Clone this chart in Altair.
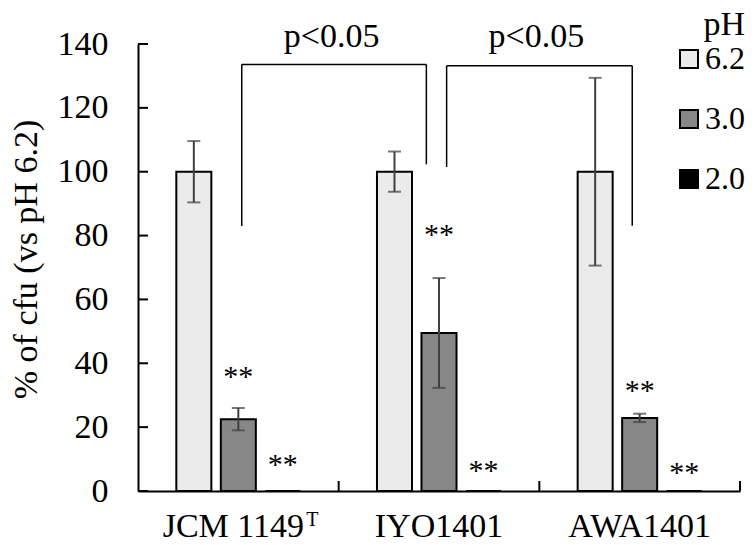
import altair as alt
import pandas as pd

# ---------------- data ----------------
groups = ["JCM 1149", "IYO1401", "AWA1401"]
superscripts = ["T", "", ""]
ph_levels = ["6.2", "3.0", "2.0"]
ph_colors = ["#ebebeb", "#878787", "#000000"]
mean_62 = [100, 100, 100]
mean_30 = [22.5, 49.5, 22.9]
mean_20 = [0, 0, 0]
err_62 = [9.6, 6.3, 29.4]
err_30 = [3.5, 17.2, 1.3]
err_20 = [0, 0, 0]
star_y_30 = [37.2, 81.7, 32.9]
star_y_20 = [9.8, 7.8, 7.3]
star_text = "**"
y_ticks = [0, 20, 40, 60, 80, 100, 120, 140]
group_edges = [1, 2, 3]
bracket_x1 = [0.517, 1.538]
bracket_x2 = [1.437, 2.463]
bracket_top = [133.6, 133.2]
bracket_left_end = [83.0, 101.5]
bracket_right_end = [102.3, 83.1]
p_text = ["p<0.05", "p<0.05"]
p_x = [0.965, 1.985]
p_y = [139.0, 139.0]

FONT = "Liberation Serif"
W, H = 602, 447

# ---------------- tables ----------------
rows = []
for ph, means, errs in zip(ph_levels, [mean_62, mean_30, mean_20], [err_62, err_30, err_20]):
    for g, m, e in zip(groups, means, errs):
        rows.append({"group": g, "ph": ph, "mean": m, "err": e, "lo": m - e, "hi": m + e})
bars_df = pd.DataFrame(rows)

star_rows = []
for ph, ys in zip(["3.0", "2.0"], [star_y_30, star_y_20]):
    for g, y in zip(groups, ys):
        star_rows.append({"group": g, "ph": ph, "sy": y, "txt": star_text})
star_df = pd.DataFrame(star_rows)

label_df = pd.DataFrame({"group": groups, "sup": superscripts})
ytick_df = pd.DataFrame({"v": y_ticks})
edge_df = pd.DataFrame({"e": group_edges})

seg_rows = []
for x1, x2, t, l, r in zip(bracket_x1, bracket_x2, bracket_top, bracket_left_end, bracket_right_end):
    seg_rows.append({"x": x1, "x2": x2, "y": t, "y2": t})
    seg_rows.append({"x": x1, "x2": x1, "y": l, "y2": t})
    seg_rows.append({"x": x2, "x2": x2, "y": r, "y2": t})
seg_df = pd.DataFrame(seg_rows)
p_df = pd.DataFrame({"x": p_x, "y": p_y, "txt": p_text})

# ---------------- encodings ----------------
yscale = alt.Scale(domain=[0, 140], nice=False, zero=True)
yaxis = alt.Axis(title="% of cfu (vs pH 6.2)", values=y_ticks, ticks=False, tickSize=0,
                 labelPadding=30, labelFontSize=34, labelFont=FONT, labelColor="black",
                 domainColor="black", domainWidth=2, grid=False,
                 titleFontSize=34, titleFont=FONT, titleFontWeight="normal",
                 titleColor="black", titleAngle=270, titleX=-112, titleY=215,
                 titleBaseline="middle", titleAlign="center")


def Y(field):
    return alt.Y(field, scale=yscale, axis=yaxis)


xband = alt.X("group:N", sort=groups,
              scale=alt.Scale(paddingInner=0, paddingOuter=0),
              axis=alt.Axis(labels=False, ticks=False, title=None, grid=False,
                            domain=True, domainColor="black", domainWidth=2))
xoff = alt.XOffset("ph:N", sort=ph_levels,
                   scale=alt.Scale(domain=ph_levels, paddingInner=0.213, paddingOuter=0.861))

bars = alt.Chart(bars_df).mark_bar(stroke="black", strokeWidth=2).encode(
    x=xband,
    xOffset=xoff,
    y=Y("mean:Q"),
    color=alt.Color("ph:N", sort=ph_levels,
                    scale=alt.Scale(domain=ph_levels, range=ph_colors),
                    legend=alt.Legend(title="pH", orient="none", legendX=535, legendY=-36,
                                      padding=0, symbolType="square", symbolSize=324,
                                      symbolStrokeColor="black", symbolStrokeWidth=2,
                                      symbolOpacity=1, labelFontSize=32, labelFont=FONT,
                                      labelColor="black", labelOffset=0, rowPadding=28,
                                      titleFontSize=34, titleFont=FONT, titleFontWeight="normal",
                                      titleColor="black", titleAnchor="end", titlePadding=1,
                                      titleBaseline="top")),
)

err_base = alt.Chart(bars_df).transform_filter("datum.err > 0")
err_rule = err_base.mark_rule(color="#404040", strokeWidth=2).encode(
    x=alt.X("group:N", sort=groups),
    xOffset=xoff,
    y=Y("lo:Q"),
    y2="hi:Q",
)
cap_lo = err_base.mark_tick(color="#404040", thickness=2, size=13, orient="horizontal").encode(
    x=alt.X("group:N", sort=groups), xOffset=xoff, y=Y("lo:Q"))
cap_hi = err_base.mark_tick(color="#404040", thickness=2, size=13, orient="horizontal").encode(
    x=alt.X("group:N", sort=groups), xOffset=xoff, y=Y("hi:Q"))

stars = alt.Chart(star_df).mark_text(font=FONT, fontSize=30, color="black",
                                     baseline="alphabetic", dy=14).encode(
    x=alt.X("group:N", sort=groups), xOffset=xoff,
    y=Y("sy:Q"),
    text="txt:N",
)

LBL_Y = H + 46
labels_plain = alt.Chart(label_df).transform_filter("datum.sup == ''").mark_text(
    font=FONT, fontSize=34, color="black", baseline="alphabetic", align="center").encode(
    x=alt.X("group:N", sort=groups), y=alt.value(LBL_Y), text="group:N")
labels_sup_main = alt.Chart(label_df).transform_filter("datum.sup != ''").mark_text(
    font=FONT, fontSize=34, color="black", baseline="alphabetic", align="center", dx=-5).encode(
    x=alt.X("group:N", sort=groups), y=alt.value(LBL_Y), text="group:N")
labels_sup = alt.Chart(label_df).transform_filter("datum.sup != ''").mark_text(
    font=FONT, fontSize=20, color="black", baseline="alphabetic", align="left", dx=68).encode(
    x=alt.X("group:N", sort=groups), y=alt.value(LBL_Y - 11), text="sup:N")

yticks = alt.Chart(ytick_df).mark_rule(color="black", strokeWidth=2).encode(
    y=Y("v:Q"), x=alt.value(0), x2=alt.value(10))

band_layer = alt.layer(bars, err_rule, cap_lo, cap_hi, stars, labels_plain,
                       labels_sup_main, labels_sup, yticks)

xq = alt.Scale(domain=[0, 3], nice=False, zero=False)
brackets = alt.Chart(seg_df).mark_rule(color="black", strokeWidth=1.5).encode(
    x=alt.X("x:Q", scale=xq, axis=None), x2="x2:Q",
    y=Y("y:Q"), y2="y2:Q")
ptext = alt.Chart(p_df).mark_text(font=FONT, fontSize=34, color="black",
                                  baseline="alphabetic", align="center").encode(
    x=alt.X("x:Q", scale=xq, axis=None),
    y=Y("y:Q"), text="txt:N")
xticks = alt.Chart(edge_df).mark_rule(color="black", strokeWidth=2).encode(
    x=alt.X("e:Q", scale=xq, axis=None), y=alt.value(H - 10), y2=alt.value(H))

quant_layer = alt.layer(brackets, ptext, xticks)

chart = alt.layer(band_layer, quant_layer).resolve_scale(x="independent").properties(
    width=W, height=H,
    autosize=alt.AutoSizeParams(type="none"),
    padding={"left": 130, "top": 36, "right": 8, "bottom": 54},
    background="white",
).configure_view(stroke=None)

chart.save("out.html", embed_options={"renderer": "svg", "actions": False})
